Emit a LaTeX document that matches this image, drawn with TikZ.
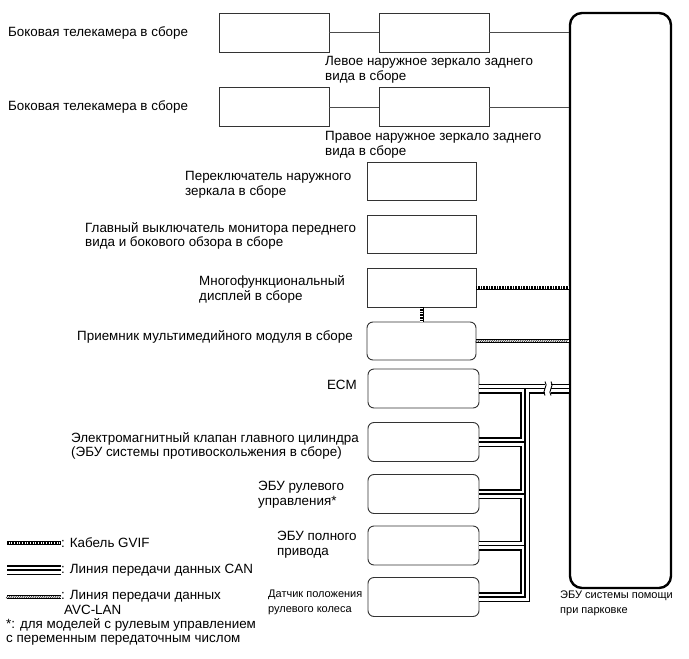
\documentclass[tikz,border=0pt]{standalone}
\usepackage{fontspec}
\setmainfont{Liberation Sans}
\usetikzlibrary{calc,decorations.markings}

\tikzset{
  unit/.style={draw=black!80, line width=0.9pt, minimum width=110pt, minimum height=39pt, inner sep=0pt},
  unitr/.style={unit, rounded corners=6pt},
  lbl/.style={anchor=west, align=left, inner sep=0pt, font=\fontsize{13.4}{14.8}\selectfont},
  lbls/.style={lbl, font=\fontsize{11}{14.8}\selectfont},
  wire/.style={draw=black!70, line width=0.8pt},
  gvif/.style={line width=0.8pt, double=white, double distance=2.4pt,
    postaction={decorate, decoration={markings,
      mark=between positions 0 and 1 step 1.6pt with {\draw[line width=0.5pt] (0pt,-1.2pt) -- (0pt,1.2pt);}}}},
  avc/.style={line width=0.8pt, double=white, double distance=2.4pt,
    postaction={decorate, decoration={markings,
      mark=between positions 0 and 1 step 2.2pt with {\draw[line width=0.5pt] (-0.9pt,-1.2pt) -- (0.9pt,1.2pt);}}}}
}

\begin{document}
\begin{tikzpicture}[x=1pt,y=-1pt]
  \useasboundingbox (0,0) rectangle (689,659);

  % parking assist ECU
  \node[draw, line width=2.4pt, rounded corners=12pt, minimum width=101pt, minimum height=575pt, inner sep=0pt] (ecu) at (620.5,300.5) {};
  \node[lbls, anchor=north west] (ecutxt) at (560,591) {ЭБУ системы помощи\\при парковке};

  % cameras and mirrors
  \node[unit] (cam1) at (274,32.5) {};
  \node[unit] (mirl) at (434,32.5) {};
  \node[unit] (cam2) at (274,107) {};
  \node[unit] (mirr) at (434,107) {};
  \node[lbl] at (8,33) {Боковая телекамера в сборе};
  \node[lbl] at (8,107) {Боковая телекамера в сборе};
  \node[lbl] at (325,70) {Левое наружное зеркало заднего\\вида в сборе};
  \node[lbl] at (325,144.5) {Правое наружное зеркало заднего\\вида в сборе};
  \draw[wire] (cam1) -- (mirl);
  \draw[wire] (mirl) -- (mirl -| ecu.west);
  \draw[wire] (cam2) -- (mirr);
  \draw[wire] (mirr) -- (mirr -| ecu.west);

  % switches, display, receiver
  \node[unit, minimum width=109pt, minimum height=38pt] (msw) at (421.5,181) {};
  \node[unit, minimum width=109pt, minimum height=38pt] (fsw) at (421.5,234) {};
  \node[unit, minimum width=109pt] (disp) at (421.5,287.5) {};
  \node[unitr, minimum width=109pt, minimum height=38pt] (recv) at (421.5,341) {};
  \node[lbl] at (185,184.5) {Переключатель наружного\\зеркала в сборе};
  \node[lbl] at (85,236) {Главный выключатель монитора переднего\\вида и бокового обзора в сборе};
  \node[lbl] at (199,289.5) {Многофункциональный\\дисплей в сборе};
  \node[lbl] at (77,337) {Приемник мультимедийного модуля в сборе};
  \draw[gvif] (disp.east) -- (disp.east -| ecu.west);
  \draw[gvif] (disp.south) -- (recv.north);
  \draw[avc] (recv.east) -- (recv.east -| ecu.west);

  % CAN units
  \node[unitr, minimum width=111pt] (ecm) at (423.5,388.5) {};
  \node[unitr, minimum width=111pt] (mc) at (423.5,442) {};
  \node[unitr, minimum width=111pt] (steer) at (423.5,494) {};
  \node[unitr, minimum width=111pt] (awd) at (423.5,545.5) {};
  \node[unitr, minimum width=111pt] (sens) at (423.5,597) {};
  \node[lbl, anchor=east] at (357,385) {ECM};
  \node[lbl] at (71,446) {Электромагнитный клапан главного цилиндра\\(ЭБУ системы противоскольжения в сборе)};
  \node[lbl] at (258,495) {ЭБУ рулевого\\управления*};
  \node[lbl] at (277,544.5) {ЭБУ полного\\привода};
  \node[lbls] at (268,602.5) {Датчик положения\\рулевого колеса};

  % legend
  \coordinate (lg1) at (7,543);
  \coordinate (lg2) at (7,570);
  \coordinate (lg3) at (7,597);
  \node[lbl] (lgt1) at (61,543) {: Кабель GVIF};
  \node[lbl] (lgt2) at (61,570) {: Линия передачи данных CAN};
  \node[lbl, anchor=north west] (lgt3) at (61,590) {: Линия передачи данных\\\hspace*{3pt}AVC-LAN};
  \node[lbl, anchor=north west] (lgt4) at (6,618) {*: для моделей с рулевым управлением\\с переменным передаточным числом};
  \draw[gvif] (lg1) -- (lgt1.west);
  \draw[avc] (lg3) -- (lg3 -| lgt1.west);

  % CAN bus
  \coordinate (bus) at (525,0);
  \foreach \w/\c in {10/black, 7/white, 1.2/black} {
    \draw[line width=\w pt, \c] (ecm.east) -- (ecm.east -| ecu.west);
    \draw[line width=\w pt, \c, line join=miter] (ecm.east -| bus) |- (sens.east);
    \foreach \n in {mc, steer, awd}
      \draw[line width=\w pt, \c] (\n.east) -- (\n.east -| bus);
    \draw[line width=\w pt, \c] (lg2) -- (lgt2.west);
  }

  % break mark
  \coordinate (brkx) at (548,0);
  \coordinate (brk) at (ecm.east -| brkx);
  \fill[white] ($(brk)+(-3,-6)$) rectangle ($(brk)+(3,6)$);
  \draw[line width=0.9pt] ($(brk)+(-3,-7)$) .. controls ($(brk)+(1,-3)$) and ($(brk)+(-7,3)$) .. ($(brk)+(-3,7)$);
  \draw[line width=0.9pt] ($(brk)+(3,-7)$) .. controls ($(brk)+(7,-3)$) and ($(brk)+(-1,3)$) .. ($(brk)+(3,7)$);
\end{tikzpicture}
\end{document}
